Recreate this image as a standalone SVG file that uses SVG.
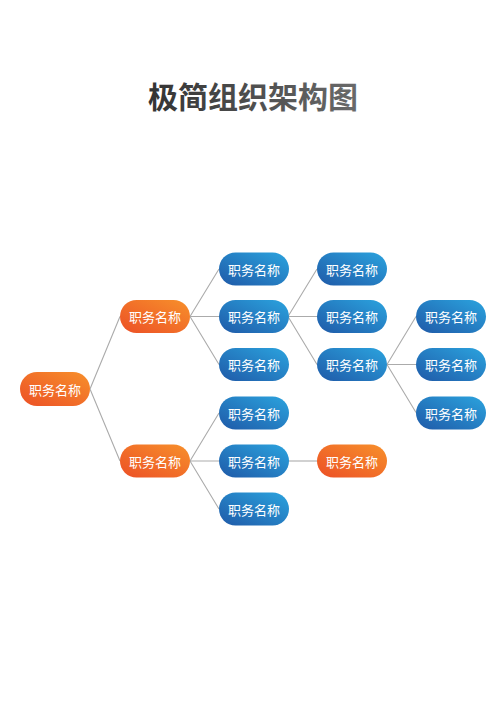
<svg xmlns="http://www.w3.org/2000/svg" width="500" height="707" viewBox="0 0 500 707">
<defs>
<linearGradient id="gBlue" x1="0" y1="1" x2="1" y2="0">
<stop offset="0" stop-color="#1f5aa8"/>
<stop offset="1" stop-color="#2ba3de"/>
</linearGradient>
<linearGradient id="gOrange" x1="0" y1="1" x2="1" y2="0">
<stop offset="0" stop-color="#ec5026"/>
<stop offset="1" stop-color="#f7902b"/>
</linearGradient>
<linearGradient id="gTitle" x1="0" y1="0" x2="1" y2="0">
<stop offset="0" stop-color="#333333"/>
<stop offset="1" stop-color="#6a6a6a"/>
</linearGradient>
<style>
.blue{fill:url(#gBlue);}
.orange{fill:url(#gOrange);}
.lbl{font-family:"Noto Sans CJK SC","Noto Sans",sans-serif;font-size:13px;fill:#ffffff;text-anchor:middle;dominant-baseline:central;}
.con{stroke:#ababab;stroke-width:1.1;fill:none;}
.title{font-family:"Noto Sans CJK SC","Noto Sans",sans-serif;font-size:30px;font-weight:bold;fill:url(#gTitle);text-anchor:middle;}
</style>
</defs>
<rect width="500" height="707" fill="#ffffff"/>
<text class="title" x="253" y="108">极简组织架构图</text>
<g id="connectors">
<path class="con" d="M90,389 L120,316.5 M90,389 L120,461"/>
<path class="con" d="M190,316.5 L219,269 M190,316.5 L219,316.5 M190,316.5 L219,364.5"/>
<path class="con" d="M288,316.5 L317,269 M288,316.5 L317,316.5 M288,316.5 L317,364.5"/>
<path class="con" d="M387,364.5 L416,316.5 M387,364.5 L416,364.5 M387,364.5 L416,412.5"/>
<path class="con" d="M190,461 L219,413 M190,461 L219,461 M190,461 L219,509"/>
<path class="con" d="M288,461 L317,461"/>
</g>
<g id="root"><rect class="orange" x="20" y="372" width="70" height="34" rx="17"/><text class="lbl" x="55" y="389">职务名称</text></g>
<g id="l1a"><rect class="orange" x="120" y="300" width="70" height="33" rx="16.5"/><text class="lbl" x="155" y="316.5">职务名称</text></g>
<g id="l1b"><rect class="orange" x="120" y="444.5" width="70" height="33" rx="16.5"/><text class="lbl" x="155" y="461">职务名称</text></g>
<g id="l2a"><rect class="blue" x="219" y="252.5" width="70" height="33" rx="16.5"/><text class="lbl" x="254" y="269">职务名称</text></g>
<g id="l2b"><rect class="blue" x="219" y="300" width="70" height="33" rx="16.5"/><text class="lbl" x="254" y="316.5">职务名称</text></g>
<g id="l2c"><rect class="blue" x="219" y="348" width="70" height="33" rx="16.5"/><text class="lbl" x="254" y="364.5">职务名称</text></g>
<g id="l2d"><rect class="blue" x="219" y="396.5" width="70" height="33" rx="16.5"/><text class="lbl" x="254" y="413">职务名称</text></g>
<g id="l2e"><rect class="blue" x="219" y="444.5" width="70" height="33" rx="16.5"/><text class="lbl" x="254" y="461">职务名称</text></g>
<g id="l2f"><rect class="blue" x="219" y="492.5" width="70" height="33" rx="16.5"/><text class="lbl" x="254" y="509">职务名称</text></g>
<g id="l3a"><rect class="blue" x="317" y="252.5" width="70" height="33" rx="16.5"/><text class="lbl" x="352" y="269">职务名称</text></g>
<g id="l3b"><rect class="blue" x="317" y="300" width="70" height="33" rx="16.5"/><text class="lbl" x="352" y="316.5">职务名称</text></g>
<g id="l3c"><rect class="blue" x="317" y="348" width="70" height="33" rx="16.5"/><text class="lbl" x="352" y="364.5">职务名称</text></g>
<g id="l3d"><rect class="orange" x="317" y="444.5" width="70" height="33" rx="16.5"/><text class="lbl" x="352" y="461">职务名称</text></g>
<g id="l4a"><rect class="blue" x="416" y="300" width="70" height="33" rx="16.5"/><text class="lbl" x="451" y="316.5">职务名称</text></g>
<g id="l4b"><rect class="blue" x="416" y="348" width="70" height="33" rx="16.5"/><text class="lbl" x="451" y="364.5">职务名称</text></g>
<g id="l4c"><rect class="blue" x="416" y="396.5" width="70" height="33" rx="16.5"/><text class="lbl" x="451" y="413">职务名称</text></g>
</svg>
